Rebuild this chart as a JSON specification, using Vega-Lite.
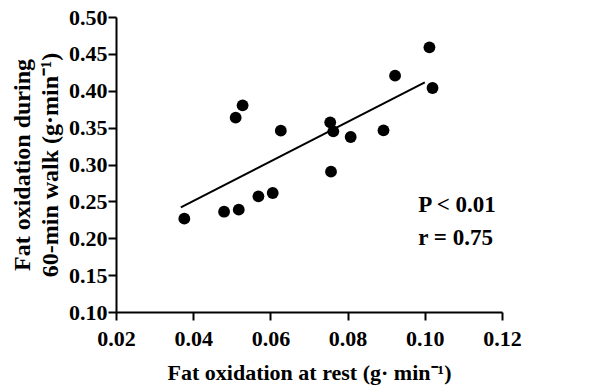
{
  "$schema": "https://vega.github.io/schema/vega-lite/v6.json",
  "autosize": "none",
  "width": 386,
  "height": 295,
  "padding": {"left": 116, "top": 17, "right": 111, "bottom": 76},
  "background": "white",
  "config": {
    "view": {"stroke": null},
    "font": "Liberation Serif"
  },
  "datasets": {
    "pts": [
      {"rest": 0.0377, "walk": 0.2266},
      {"rest": 0.0480, "walk": 0.2360},
      {"rest": 0.0518, "walk": 0.2388},
      {"rest": 0.0569, "walk": 0.2568},
      {"rest": 0.0606, "walk": 0.2614},
      {"rest": 0.0510, "walk": 0.3635},
      {"rest": 0.0528, "walk": 0.3802},
      {"rest": 0.0627, "walk": 0.3459},
      {"rest": 0.0755, "walk": 0.3572},
      {"rest": 0.0763, "walk": 0.3450},
      {"rest": 0.0757, "walk": 0.2903},
      {"rest": 0.0808, "walk": 0.3373},
      {"rest": 0.0893, "walk": 0.3463},
      {"rest": 0.0923, "walk": 0.4205},
      {"rest": 0.1012, "walk": 0.4589},
      {"rest": 0.1020, "walk": 0.4037}
    ],
    "fit": [
      {"rest": 0.0368, "walk": 0.2419},
      {"rest": 0.1000, "walk": 0.4114}
    ],
    "notes": [
      {"rest": 0.0983, "walk": 0.2455, "label": "P < 0.01"},
      {"rest": 0.0983, "walk": 0.2000, "label": "r = 0.75"}
    ]
  },
  "encoding": {
    "x": {"field": "rest", "type": "quantitative", "scale": {"domain": [0.02, 0.12]},
      "axis": {"values": [0.02, 0.04, 0.06, 0.08, 0.10, 0.12], "format": ".2f",
        "grid": false, "domainColor": "black", "domainWidth": 2, "tickColor": "black", "tickWidth": 2, "tickSize": 8,
        "labelFont": "Liberation Serif", "labelFontSize": 22, "labelFontWeight": "bold", "labelColor": "black",
        "labelOverlap": false, "labelFlush": false, "labelPadding": 8,
        "title": "Fat oxidation at rest (g· min⁻¹)", "titleFont": "Liberation Serif", "titleFontWeight": "bold", "titleColor": "black",
        "titleFontSize": 22, "titlePadding": 13}},
    "y": {"field": "walk", "type": "quantitative", "scale": {"domain": [0.1, 0.5]},
      "axis": {"values": [0.1, 0.15, 0.2, 0.25, 0.3, 0.35, 0.4, 0.45, 0.5], "format": ".2f",
        "grid": false, "domainColor": "black", "domainWidth": 2, "tickColor": "black", "tickWidth": 2, "tickSize": 8,
        "labelFont": "Liberation Serif", "labelFontSize": 22, "labelFontWeight": "bold", "labelColor": "black",
        "labelOverlap": false, "labelFlush": false, "labelPadding": 1,
        "title": ["Fat oxidation during", "60-min walk (g·min⁻¹)"], "titleFont": "Liberation Serif", "titleFontWeight": "bold", "titleColor": "black",
        "titleFontSize": 24, "titlePadding": 6, "titleLineHeight": 28}}
  },
  "layer": [
    {
      "data": {"name": "fit"},
      "mark": {"type": "line", "color": "black", "strokeWidth": 2}
    },
    {
      "data": {"name": "pts"},
      "mark": {"type": "circle", "color": "black", "opacity": 1, "size": 140}
    },
    {
      "data": {"name": "notes"},
      "mark": {"type": "text", "align": "left", "baseline": "middle", "fontSize": 23, "fontWeight": "bold", "font": "Liberation Serif", "color": "black"},
      "encoding": {
        "text": {"field": "label"}
      }
    }
  ]
}
